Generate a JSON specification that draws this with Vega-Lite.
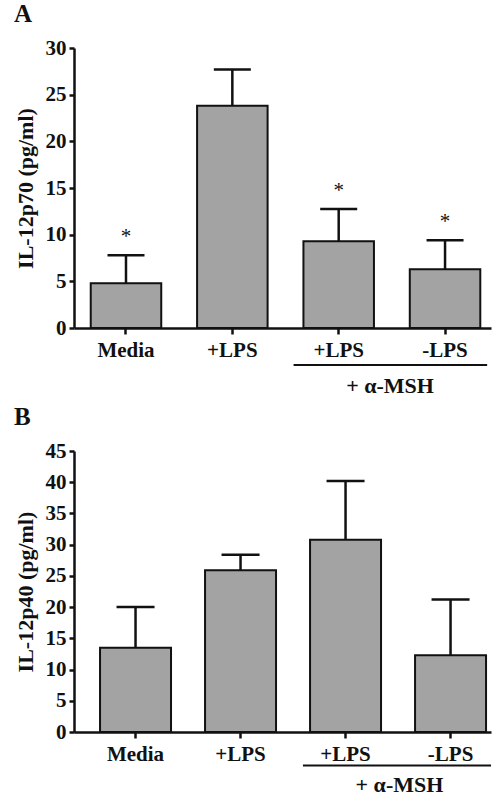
{
  "$schema": "https://vega.github.io/schema/vega-lite/v6.json",
  "background": "white",
  "padding": {"left": 14, "top": 2, "right": 0, "bottom": 0},
  "config": {
    "view": {"stroke": null},
    "font": "Liberation Serif",
    "axis": {"domainColor": "#111", "domainWidth": 2.5, "tickColor": "#111", "tickWidth": 2.5, "labelFont": "Liberation Serif", "labelFontWeight": "bold", "labelFontSize": 21, "labelColor": "#111", "titleFont": "Liberation Serif", "titleFontWeight": "bold", "titleFontSize": 22, "titleColor": "#111", "grid": false},
    "title": {"font": "Liberation Serif", "fontSize": 25, "fontWeight": "bold", "anchor": "start", "color": "#111", "frame": "bounds"},
    "concat": {"spacing": 8}
  },
  "datasets": {
    "p70": [
      {"condition": "Media", "mean": 4.8, "upper": 7.8, "sig": "*"},
      {"condition": "+LPS", "mean": 23.8, "upper": 27.7, "sig": ""},
      {"condition": "+LPS + α-MSH", "mean": 9.3, "upper": 12.75, "sig": "*"},
      {"condition": "-LPS + α-MSH", "mean": 6.3, "upper": 9.4, "sig": "*"}
    ],
    "p40": [
      {"condition": "Media", "mean": 13.5, "upper": 20.0},
      {"condition": "+LPS", "mean": 25.9, "upper": 28.4},
      {"condition": "+LPS + α-MSH", "mean": 30.8, "upper": 40.2},
      {"condition": "-LPS + α-MSH", "mean": 12.3, "upper": 21.2}
    ],
    "bracket": [{"from": "+LPS + α-MSH", "to": "-LPS + α-MSH", "label": "+ α-MSH"}]
  },
  "vconcat": [
    {
      "title": {"text": "A", "offset": 10},
      "width": 417,
      "height": 280,
      "layer": [
        {
          "data": {"name": "p70"},
          "mark": {"type": "bar", "fill": "#a3a3a3", "stroke": "#111", "strokeWidth": 2},
          "encoding": {
            "x": {"field": "condition", "type": "nominal",
              "scale": {"domain": ["Media", "+LPS", "+LPS + α-MSH", "-LPS + α-MSH"], "paddingInner": 0.337, "paddingOuter": 0.129, "align": 0.61},
              "axis": {"title": null, "labelAngle": 0, "labelExpr": "split(datum.value, ' + ')[0]", "tickSize": 6, "labelPadding": 5}},
            "y": {"field": "mean", "type": "quantitative",
              "scale": {"domain": [0, 30], "nice": false},
              "axis": {"title": "IL-12p70 (pg/ml)", "values": [0, 5, 10, 15, 20, 25, 30], "labelOverlap": false, "tickSize": 5, "labelPadding": 3, "titlePadding": 8}}
          }
        },
        {
          "data": {"name": "p70"},
          "mark": {"type": "rule", "stroke": "#111", "strokeWidth": 2.5},
          "encoding": {"x": {"field": "condition", "type": "nominal"}, "y": {"field": "mean", "type": "quantitative"}, "y2": {"field": "upper"}}
        },
        {
          "data": {"name": "p70"},
          "mark": {"type": "tick", "color": "#111", "size": 37, "thickness": 2.5, "opacity": 1},
          "encoding": {"x": {"field": "condition", "type": "nominal"}, "y": {"field": "upper", "type": "quantitative"}}
        },
        {
          "data": {"name": "p70"},
          "mark": {"type": "text", "fontSize": 21, "font": "Liberation Serif", "color": "#111", "dy": -12, "baseline": "alphabetic"},
          "encoding": {"x": {"field": "condition", "type": "nominal"}, "y": {"field": "upper", "type": "quantitative"}, "text": {"field": "sig"}}
        },
        {
          "data": {"name": "bracket"},
          "mark": {"type": "rule", "stroke": "#111", "strokeWidth": 2, "yOffset": 37, "clip": false},
          "encoding": {"x": {"field": "from", "type": "nominal", "bandPosition": -0.14}, "x2": {"field": "to", "bandPosition": 1.097}, "y": {"datum": 0, "type": "quantitative"}}
        },
        {
          "data": {"name": "bracket"},
          "mark": {"type": "text", "fontSize": 22, "fontWeight": "bold", "font": "Liberation Serif", "color": "#111", "yOffset": 58, "baseline": "middle", "clip": false},
          "encoding": {"x": {"field": "to", "type": "nominal", "bandPosition": -0.28}, "y": {"datum": 0, "type": "quantitative"}, "text": {"field": "label"}}
        }
      ]
    },
    {
      "title": {"text": "B", "offset": 10},
      "width": 417,
      "height": 281,
      "layer": [
        {
          "data": {"name": "p40"},
          "mark": {"type": "bar", "fill": "#a3a3a3", "stroke": "#111", "strokeWidth": 2},
          "encoding": {
            "x": {"field": "condition", "type": "nominal",
              "scale": {"domain": ["Media", "+LPS", "+LPS + α-MSH", "-LPS + α-MSH"], "paddingInner": 0.324, "paddingOuter": 0.1476, "align": 0.84},
              "axis": {"title": null, "labelAngle": 0, "labelExpr": "split(datum.value, ' + ')[0]", "tickSize": 6, "labelPadding": 5}},
            "y": {"field": "mean", "type": "quantitative",
              "scale": {"domain": [0, 45], "nice": false},
              "axis": {"title": "IL-12p40 (pg/ml)", "values": [0, 5, 10, 15, 20, 25, 30, 35, 40, 45], "tickCount": 10, "labelOverlap": false, "tickSize": 5, "labelPadding": 3, "titlePadding": 8}}
          }
        },
        {
          "data": {"name": "p40"},
          "mark": {"type": "rule", "stroke": "#111", "strokeWidth": 2.5},
          "encoding": {"x": {"field": "condition", "type": "nominal"}, "y": {"field": "mean", "type": "quantitative", "axis": {"title": "IL-12p40 (pg/ml)", "values": [0, 5, 10, 15, 20, 25, 30, 35, 40, 45], "tickCount": 10, "labelOverlap": false, "tickSize": 5, "labelPadding": 3, "titlePadding": 8}}, "y2": {"field": "upper"}}
        },
        {
          "data": {"name": "p40"},
          "mark": {"type": "tick", "color": "#111", "size": 38, "thickness": 2.5, "opacity": 1},
          "encoding": {"x": {"field": "condition", "type": "nominal"}, "y": {"field": "upper", "type": "quantitative", "axis": {"title": "IL-12p40 (pg/ml)", "values": [0, 5, 10, 15, 20, 25, 30, 35, 40, 45], "tickCount": 10, "labelOverlap": false, "tickSize": 5, "labelPadding": 3, "titlePadding": 8}}}
        },
        {
          "data": {"name": "bracket"},
          "mark": {"type": "rule", "stroke": "#111", "strokeWidth": 2, "yOffset": 33.5, "clip": false},
          "encoding": {"x": {"field": "from", "type": "nominal", "bandPosition": -0.1}, "x2": {"field": "to", "bandPosition": 1.07}, "y": {"datum": 0, "type": "quantitative", "axis": {"title": "IL-12p40 (pg/ml)", "values": [0, 5, 10, 15, 20, 25, 30, 35, 40, 45], "tickCount": 10, "labelOverlap": false, "tickSize": 5, "labelPadding": 3, "titlePadding": 8}}}
        },
        {
          "data": {"name": "bracket"},
          "mark": {"type": "text", "fontSize": 22, "fontWeight": "bold", "font": "Liberation Serif", "color": "#111", "yOffset": 53, "baseline": "middle", "clip": false},
          "encoding": {"x": {"field": "to", "type": "nominal", "bandPosition": -0.22}, "y": {"datum": 0, "type": "quantitative", "axis": {"title": "IL-12p40 (pg/ml)", "values": [0, 5, 10, 15, 20, 25, 30, 35, 40, 45], "tickCount": 10, "labelOverlap": false, "tickSize": 5, "labelPadding": 3, "titlePadding": 8}}, "text": {"field": "label"}}
        }
      ]
    }
  ]
}
